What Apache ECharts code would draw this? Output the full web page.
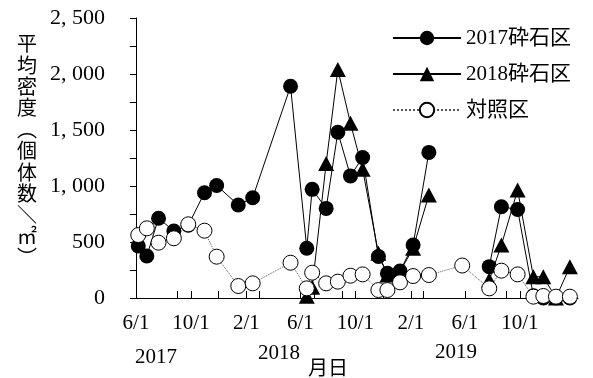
<!DOCTYPE html>
<html>
<head>
<meta charset="utf-8">
<script src="https://cdn.jsdelivr.net/npm/echarts@6/dist/echarts.min.js"></script>
<style>
html, body { margin: 0; padding: 0; background: #fff; }
#chart { width: 593px; height: 378px; }
</style>
</head>
<body>
<div id="chart"></div>
<script>
// Survey dates shared by all three plots (null = not surveyed in that plot)
const surveyDates = [
  '2017-06-06', '2017-06-25', '2017-07-21', '2017-08-24', '2017-09-25', '2017-10-31',
  '2017-11-27', '2018-01-14', '2018-02-15', '2018-05-10', '2018-06-15', '2018-06-27',
  '2018-07-28', '2018-08-23', '2018-09-20', '2018-10-17', '2018-11-21', '2018-12-11',
  '2019-01-08', '2019-02-06', '2019-03-13', '2019-05-26', '2019-07-25', '2019-08-21',
  '2019-09-26', '2019-10-31', '2019-11-22', '2019-12-20', '2020-01-20'
];
// Mean density (individuals / m2)
const gravel2017 = [464, 375, 712, 598, 650, 940, 1005, 830, 895, 1890, 444, 970, 800, 1480, 1090, 1255, 370, 220, 240, 473, 1300, null, 280, 815, 790, 20, 0, 0, 0];
const gravel2018 = [null, null, null, null, null, null, null, null, null, null, 15, 95, 1200, 2040, 1560, 1150, 400, 205, 235, 444, 920, null, 160, 473, 964, 190, 190, 0, 280];
const control = [562, 622, 494, 533, 658, 601, 369, 107, 131, 315, 86, 226, 131, 146, 199, 211, 71, 71, 140, 196, 205, 290, 86, 244, 211, 12, 18, 12, 12];

const seriesNames = ['2017砕石区', '2018砕石区', '対照区'];
// Axis labelling
const labelDates = ['2017-06-01', '2017-10-01', '2018-02-01', '2018-06-01', '2018-10-01', '2019-02-01', '2019-06-01', '2019-10-01'];
const extraTickDates = ['2017-09-01', '2017-12-01', '2018-03-01', '2018-07-01', '2018-09-01', '2018-12-01', '2019-03-01', '2019-09-01'];
const yearLabels = ['2017', '2018', '2019'];
const xAxisTitle = '月日';
const yAxisTitle = ['平', '均', '密', '度', '︵', '個', '体', '数', '＼', '㎡', '︶'];

const SERIF = "'Liberation Serif', 'Noto Sans CJK JP', serif";
const DAY = 86400000;

// Dates are placed on a numeric axis counted in days
function toDay(s) {
  const p = s.split('-').map(Number);
  return Math.round(Date.UTC(p[0], p[1] - 1, p[2]) / DAY);
}
function pairs(values) {
  return surveyDates.map((d, i) => [toDay(d), values[i] == null ? '-' : values[i]]);
}

const chart = echarts.init(document.getElementById('chart'), null, { renderer: 'canvas' });

chart.setOption({
  animation: false,
  backgroundColor: '#fff',
  grid: { left: 136, right: 15, top: 18, bottom: 80, outerBoundsMode: 'none', containLabel: false },
  legend: {
    orient: 'vertical',
    left: 387,
    top: 22,
    itemWidth: 68,
    itemHeight: 18,
    itemGap: 14,
    data: seriesNames,
    textStyle: { fontFamily: SERIF, fontSize: 21, color: '#000', lineHeight: 22 },
    selectedMode: false
  },
  xAxis: {
    type: 'value',
    min: toDay('2017-06-01'),
    max: toDay('2020-02-07'),
    axisLine: { lineStyle: { color: '#000', width: 1 } },
    axisTick: {
      show: true, inside: true, length: 7,
      lineStyle: { color: '#000', width: 1 },
      customValues: labelDates.concat(extraTickDates).map(toDay)
    },
    axisLabel: {
      customValues: labelDates.map(toDay),
      formatter: function (v) {
        const d = new Date(v * DAY);
        return (d.getUTCMonth() + 1) + '/' + d.getUTCDate();
      },
      fontFamily: SERIF, fontSize: 21, color: '#000', margin: 15
    },
    splitLine: { show: false }
  },
  yAxis: {
    type: 'value',
    min: 0, max: 2500, interval: 250,
    axisLine: { show: true, lineStyle: { color: '#000', width: 1 } },
    axisTick: { show: true, inside: false, length: 6, lineStyle: { color: '#000', width: 1 } },
    axisLabel: {
      formatter: function (v) {
        if (v % 500 !== 0) return '';
        return v >= 1000 ? Math.floor(v / 1000) + ', ' + String(v % 1000).padStart(3, '0') : String(v);
      },
      fontFamily: SERIF, fontSize: 22, color: '#000', margin: 31
    },
    splitLine: { show: false }
  },
  series: [
    {
      name: seriesNames[0], type: 'line', data: pairs(gravel2017),
      symbol: 'circle', symbolSize: 15, showAllSymbol: true,
      itemStyle: { color: '#000' },
      lineStyle: { color: '#000', width: 1 },
      emphasis: { disabled: true }
    },
    {
      name: seriesNames[1], type: 'line', data: pairs(gravel2018),
      symbol: 'triangle', symbolSize: [16, 15], showAllSymbol: true,
      itemStyle: { color: '#000' },
      lineStyle: { color: '#000', width: 1 },
      emphasis: { disabled: true }
    },
    {
      name: seriesNames[2], type: 'line', data: pairs(control),
      symbol: 'circle', symbolSize: 15, showAllSymbol: true,
      itemStyle: { color: '#fff', borderColor: '#000', borderWidth: 1 },
      lineStyle: { color: '#555', width: 1, type: 'dotted' },
      emphasis: { disabled: true }
    }
  ],
  graphic: [
    { type: 'text', x: 27, y: 33, silent: true,
      style: { text: yAxisTitle.join('\n'), fontFamily: "'Noto Sans CJK JP'", fontSize: 20, lineHeight: 21.4,
               fill: '#000', align: 'center', verticalAlign: 'top' } },
    { type: 'text', x: 156, y: 357, silent: true,
      style: { text: yearLabels[0], fontFamily: SERIF, fontSize: 21, fill: '#000', align: 'center', verticalAlign: 'middle' } },
    { type: 'text', x: 279, y: 353, silent: true,
      style: { text: yearLabels[1], fontFamily: SERIF, fontSize: 21, fill: '#000', align: 'center', verticalAlign: 'middle' } },
    { type: 'text', x: 456, y: 352, silent: true,
      style: { text: yearLabels[2], fontFamily: SERIF, fontSize: 21, fill: '#000', align: 'center', verticalAlign: 'middle' } },
    { type: 'text', x: 328, y: 367, silent: true,
      style: { text: xAxisTitle, fontFamily: "'Noto Sans CJK JP'", fontSize: 20, fill: '#000', align: 'center', verticalAlign: 'middle' } }
  ]
});
</script>
</body>
</html>
